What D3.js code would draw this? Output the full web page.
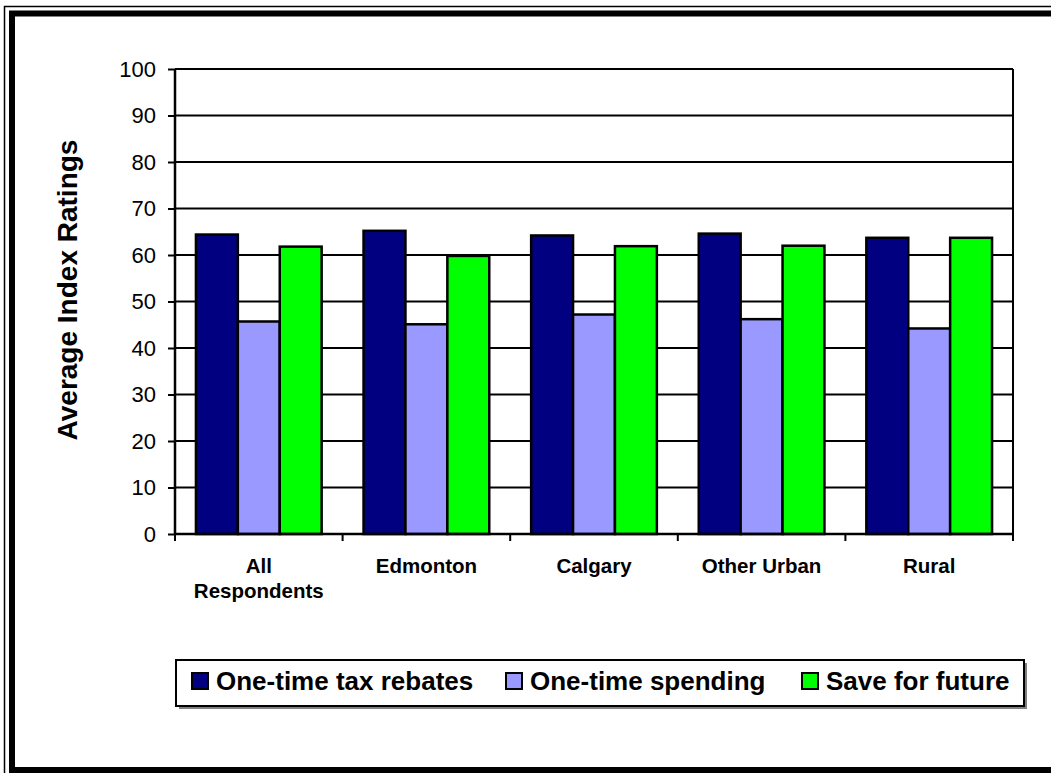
<!DOCTYPE html>
<html>
<head>
<meta charset="utf-8">
<script src="https://cdn.jsdelivr.net/npm/d3@7"></script>
<style>
  body { margin: 0; background: #fff; }
  text { font-family: "Liberation Sans", Arial, sans-serif; }
</style>
</head>
<body>
<div id="chart"></div>
<script>
var categories = ["All Respondents", "Edmonton", "Calgary", "Other Urban", "Rural"];
var seriesNames = ["One-time tax rebates", "One-time spending", "Save for future"];
var rebates = [64.4, 65.2, 64.2, 64.6, 63.7];
var spending = [45.7, 45.1, 47.2, 46.2, 44.2];
var saveFuture = [61.8, 59.8, 61.9, 62.0, 63.7];
var yTicks = [0, 10, 20, 30, 40, 50, 60, 70, 80, 90, 100];
var colors = ["#000080", "#9999ff", "#00ff00"];

var W = 1051, H = 773;
var margin = {top: 69, right: 38, bottom: 239, left: 175},
    width = W - margin.left - margin.right,
    height = H - margin.top - margin.bottom;

var root = d3.select("#chart")
  .append("svg")
    .attr("width", W)
    .attr("height", H);

root.append("rect").attr("width", W).attr("height", H).attr("fill", "#fff");

// double frame round the whole picture (cut off on right and bottom)
root.append("rect")
  .attr("x", 4.5).attr("y", 6.5)
  .attr("width", 1100).attr("height", 800)
  .attr("fill", "none").attr("stroke", "#000").attr("stroke-width", 1.5);
root.append("rect")
  .attr("x", 12).attr("y", 13.5)
  .attr("width", 1100).attr("height", 756.5)
  .attr("fill", "none").attr("stroke", "#000").attr("stroke-width", 6);

var svg = root.append("g")
  .attr("transform", "translate(" + margin.left + "," + margin.top + ")");

var data = categories.map(function(c, i) {
  return {cat: c, values: [rebates[i], spending[i], saveFuture[i]]};
});

var x0 = d3.scaleBand()
  .domain(categories)
  .range([0, width]);

var x1 = d3.scaleBand()
  .domain(d3.range(seriesNames.length))
  .range([x0.bandwidth() / 8, x0.bandwidth() * 7 / 8]);

var y = d3.scaleLinear()
  .domain([0, 100])
  .range([height, 0]);

// gridlines
svg.append("g")
  .selectAll("line")
  .data(yTicks.filter(function(d) { return d > 0; }))
  .join("line")
    .attr("x1", 0).attr("x2", width)
    .attr("y1", function(d) { return y(d); })
    .attr("y2", function(d) { return y(d); })
    .attr("stroke", "#000").attr("stroke-width", 2);

// right edge of plot area
svg.append("line")
  .attr("x1", width).attr("x2", width)
  .attr("y1", 0).attr("y2", height)
  .attr("stroke", "#000").attr("stroke-width", 2);

// bars
svg.append("g")
  .selectAll("g")
  .data(data)
  .join("g")
    .attr("transform", function(d) { return "translate(" + x0(d.cat) + ",0)"; })
  .selectAll("rect")
  .data(function(d) { return d.values.map(function(v, i) { return {i: i, v: v}; }); })
  .join("rect")
    .attr("x", function(d) { return x1(d.i); })
    .attr("y", function(d) { return y(d.v); })
    .attr("width", x1.bandwidth())
    .attr("height", function(d) { return height - y(d.v); })
    .attr("fill", function(d) { return colors[d.i]; })
    .attr("stroke", "#000")
    .attr("stroke-width", 2.5);

// y axis
var yAxis = svg.append("g")
  .call(d3.axisLeft(y).tickValues(yTicks).tickSize(7).tickPadding(12));
yAxis.select(".domain").attr("stroke-width", 2.5).attr("d", "M0," + y(100) + "V" + y(0));
yAxis.selectAll(".tick line").attr("stroke-width", 2);
yAxis.selectAll("text")
  .style("font-size", "22px")
  .style("font-family", "'Liberation Sans', Arial, sans-serif")
  .style("fill", "#000");

// x axis with ticks between categories
var xAxis = svg.append("g")
  .attr("transform", "translate(0," + height + ")");
xAxis.append("line")
  .attr("x1", 0).attr("x2", width)
  .attr("stroke", "#000").attr("stroke-width", 2.5);
xAxis.selectAll(".sep")
  .data(categories.concat(["end"]))
  .join("line")
    .attr("class", "sep")
    .attr("x1", function(d, i) { return i * x0.bandwidth(); })
    .attr("x2", function(d, i) { return i * x0.bandwidth(); })
    .attr("y1", 0).attr("y2", 7)
    .attr("stroke", "#000").attr("stroke-width", 2);

var labelLines = {"All Respondents": ["All", "Respondents"]};
xAxis.selectAll(".cat")
  .data(categories)
  .join("text")
    .attr("class", "cat")
    .attr("text-anchor", "middle")
    .attr("x", function(d) { return x0(d) + x0.bandwidth() / 2; })
    .attr("y", 39)
    .style("font-size", "20.5px")
    .style("font-weight", "bold")
    .each(function(d) {
      var lines = labelLines[d] || [d];
      var t = d3.select(this);
      lines.forEach(function(l, k) {
        t.append("tspan")
          .attr("x", x0(d) + x0.bandwidth() / 2)
          .attr("dy", k === 0 ? 0 : 25)
          .text(l);
      });
    });

// y title
root.append("text")
  .attr("transform", "translate(77,290) rotate(-90)")
  .attr("text-anchor", "middle")
  .style("font-size", "28px")
  .style("font-weight", "bold")
  .text("Average Index Ratings");

// legend
var legend = root.append("g");
legend.append("rect")
  .attr("x", 179).attr("y", 663)
  .attr("width", 848).attr("height", 46)
  .attr("fill", "#808080");
legend.append("rect")
  .attr("x", 176).attr("y", 660)
  .attr("width", 848).attr("height", 46)
  .attr("fill", "#fff").attr("stroke", "#000").attr("stroke-width", 2);

var legendX = [192, 506, 802];
seriesNames.forEach(function(name, i) {
  legend.append("rect")
    .attr("x", legendX[i]).attr("y", 673)
    .attr("width", 16).attr("height", 16)
    .attr("fill", colors[i])
    .attr("stroke", "#000").attr("stroke-width", 2);
  legend.append("text")
    .attr("x", legendX[i] + 24).attr("y", 690)
    .style("font-size", "26px")
    .style("font-weight", "bold")
    .text(name);
});
</script>
</body>
</html>
